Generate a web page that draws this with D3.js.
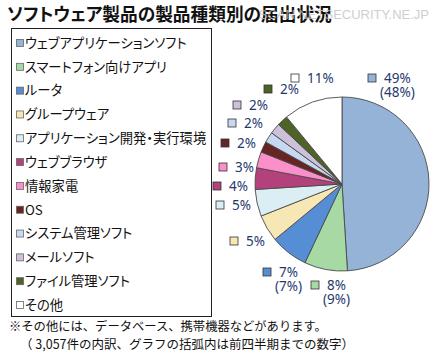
<!DOCTYPE html>
<html><head><meta charset="utf-8">
<script src="https://cdn.jsdelivr.net/npm/d3@7"></script>
<style>body{margin:0;background:#fff}svg{display:block}.p{font-feature-settings:"palt" 1}</style>
</head><body>
<svg id="c" width="435" height="357"></svg>
<script>
const categories = ["ウェブアプリケーションソフト","スマートフォン向けアプリ","ルータ","グループウェア","アプリケーション開発・実行環境","ウェブブラウザ","情報家電","OS","システム管理ソフト","メールソフト","ファイル管理ソフト","その他"];
const shares = [49, 8, 7, 5, 5, 4, 3, 2, 2, 2, 2, 11];
const prevShares = [48, 9, 7, null, null, null, null, null, null, null, null, null];
const colors = ["#95B3D7","#A6D9A3","#558ED5","#F6E7B4","#DAEEF3","#B3417B","#FA8FC9","#672424","#C6D9F1","#CCC0DA","#4F6228","#FFFFFF"];
const titleText = "ソフトウェア製品の製品種類別の届出状況";
const watermark = "SCAN NETSECURITY.NE.JP";
const notes = ["※その他には、データベース、携帯機器などがあります。","（ 3,057件の内訳、グラフの括弧内は前四半期までの数字）"];

// layout (label anchor offsets from pie centre, per slice)
const labelOffsets = [[30,-106],[-27,101],[-75,88],[-108,57],[-122,21],[-125,2],[-119,-17],[-117,-41],[-110,-61],[-105,-79],[-74,-95],[-47,-106]];

const svg = d3.select("#c");
const jp = "'Noto Sans CJK JP','Noto Sans',sans-serif";

svg.append("text").attr("class","p").attr("x",7).attr("y",21).attr("font-family",jp)
  .attr("font-size",17.7).attr("font-weight","bold").attr("fill","#111").text(titleText);
svg.append("text").attr("x",429).attr("y",19).attr("text-anchor","end")
  .attr("font-family","'Liberation Sans',sans-serif").attr("font-size",13)
  .attr("fill","#c4c4c4").attr("opacity",0.8).text(watermark);

// legend
svg.append("rect").attr("x",11.5).attr("y",28.5).attr("width",200).attr("height",288)
  .attr("fill","none").attr("stroke","#222").attr("stroke-width",1);
const ly = d3.scalePoint().domain(d3.range(categories.length)).range([43,305]);
const lg = svg.append("g").selectAll("g").data(categories).join("g")
  .attr("transform",(d,i)=>`translate(0,${ly(i)})`);
lg.append("rect").attr("x",16.5).attr("y",-3.5).attr("width",7).attr("height",7)
  .attr("fill",(d,i)=>colors[i]).attr("stroke","#666").attr("stroke-width",0.8);
lg.append("text").attr("class","p").attr("x",25).attr("y",0).attr("dy","0.36em")
  .attr("font-family",jp).attr("font-size",13.3).attr("fill","#111").text(d=>d);

// pie
const cx = 342, cy = 184, r = 87;
const pie = d3.pie().sort(null).value(d=>d);
const arcs = pie(shares);
const arc = d3.arc().innerRadius(0).outerRadius(r);
const pg = svg.append("g").attr("transform",`translate(${cx},${cy})`);
pg.selectAll("path").data(arcs).join("path").attr("d",arc)
  .attr("fill",(d,i)=>colors[i]).attr("stroke","#4a4a4a").attr("stroke-width",0.9);

// labels
const lab = pg.selectAll("g.lab").data(arcs).join("g").attr("class","lab")
  .attr("transform",(d,i)=>`translate(${labelOffsets[i][0]},${labelOffsets[i][1]})`);
lab.append("rect").attr("x",-4).attr("y",-4).attr("width",8).attr("height",8)
  .attr("fill",(d,i)=>colors[i]).attr("stroke","#333").attr("stroke-width",0.8);
lab.each(function(d,i){
  const g = d3.select(this);
  const t = g.append("text").attr("font-family","'Noto Sans',sans-serif")
    .attr("font-size",13.5).attr("fill","#1F3A6E");
  const t1 = t.append("tspan").attr("x",12).attr("y",0).attr("dy","0.36em").text(shares[i]+"%");
  if(prevShares[i]!=null){
    const w = t1.node().getComputedTextLength();
    const t2 = t.append("tspan").attr("y",14).attr("dy","0.36em").text("("+prevShares[i]+"%)");
    const w2 = t2.node().getComputedTextLength();
    t2.attr("x",12+w/2-w2/2);
  }
});

// notes
svg.append("text").attr("x",9).attr("y",331).attr("font-family",jp).attr("font-size",12.3).attr("fill","#111").text(notes[0]);
svg.append("text").attr("x",20).attr("y",349).attr("font-family",jp).attr("font-size",12.5).attr("fill","#111").text(notes[1]);
</script>
</body></html>
